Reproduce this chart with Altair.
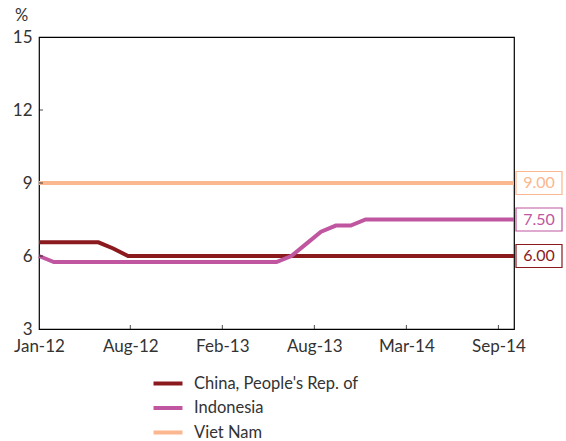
import altair as alt
import pandas as pd

# Monthly policy rates, Jan 2012 - Sep 2014 (%)
months = [d.strftime("%Y-%m") for d in pd.date_range("2012-01-01", periods=33, freq="MS")]

china = [6.56, 6.56, 6.56, 6.56, 6.56, 6.31, 6.00, 6.00, 6.00, 6.00, 6.00, 6.00,
         6.00, 6.00, 6.00, 6.00, 6.00, 6.00, 6.00, 6.00, 6.00, 6.00, 6.00, 6.00,
         6.00, 6.00, 6.00, 6.00, 6.00, 6.00, 6.00, 6.00, 6.00]
indonesia = [6.00, 5.75, 5.75, 5.75, 5.75, 5.75, 5.75, 5.75, 5.75, 5.75, 5.75, 5.75,
             5.75, 5.75, 5.75, 5.75, 5.75, 6.00, 6.50, 7.00, 7.25, 7.25, 7.50, 7.50,
             7.50, 7.50, 7.50, 7.50, 7.50, 7.50, 7.50, 7.50, 7.50]
vietnam = [9.00, 9.00, 9.00, 9.00, 9.00, 9.00, 9.00, 9.00, 9.00, 9.00, 9.00, 9.00,
           9.00, 9.00, 9.00, 9.00, 9.00, 9.00, 9.00, 9.00, 9.00, 9.00, 9.00, 9.00,
           9.00, 9.00, 9.00, 9.00, 9.00, 9.00, 9.00, 9.00, 9.00]

countries = ["China, People's Rep. of", "Indonesia", "Viet Nam"]
colors = ["#8B1A1F", "#C0569F", "#FBB78F"]

# x-axis: month index positions of the tick marks and their labels
x_tick_pos = [0, 6.15, 12.35, 18.55, 24.75, 30.95]
x_tick_labels = ["Jan-12", "Aug-12", "Feb-13", "Aug-13", "Mar-14", "Sep-14"]
y_ticks = [3, 6, 9, 12, 15]

series = {countries[0]: china, countries[1]: indonesia, countries[2]: vietnam}
rows = []
for name, vals in series.items():
    for i, (m, v) in enumerate(zip(months, vals)):
        rows.append({"idx": i, "month": m, "country": name, "value": v})
df = pd.DataFrame(rows)
last = df[df["idx"] == len(months) - 1]

FONT = "Lato"
TEXT = "#333333"
label_expr = "[{}][indexof([{}], datum.value)]".format(
    ",".join(f"'{s}'" for s in x_tick_labels),
    ",".join(str(p) for p in x_tick_pos),
)

x_enc = alt.X(
    "idx:Q",
    scale=alt.Scale(domain=[0, len(months) - 1], nice=False, zero=False),
    axis=alt.Axis(values=x_tick_pos, labelExpr=label_expr, ticks=False, domain=False,
                  grid=False, title=None, labelPadding=9, labelFontSize=17,
                  labelFont=FONT, labelColor=TEXT, labelFlush=False,
                  labelOverlap=False, labelBound=False),
)
y_scale = alt.Scale(domain=[3, 15], nice=False, zero=False)
y_enc = alt.Y(
    "value:Q",
    scale=y_scale,
    axis=alt.Axis(values=y_ticks, ticks=False, domain=False, grid=False, title="%",
                  titleAngle=0, titleX=-18, titleY=-22, titleAlign="center",
                  titleBaseline="middle", titleFontSize=16.5, titleFontWeight="normal",
                  titleFont=FONT, titleColor=TEXT, labelPadding=7,
                  labelFontSize=17, labelFont=FONT, labelColor=TEXT),
)
color_scale = alt.Scale(domain=countries, range=colors)

# legend swatch: a horizontal stroke twice as wide as the nominal symbol
legend_stroke = "M-2,0H2"

lines = alt.Chart(df).mark_line(strokeWidth=4).encode(
    x=x_enc,
    y=y_enc,
    color=alt.Color(
        "country:N", scale=color_scale, sort=countries,
        legend=alt.Legend(title=None, orient="none", legendX=119.5, legendY=337,
                          symbolType=legend_stroke, symbolSize=210,
                          symbolStrokeWidth=4, labelFontSize=16.5, labelFont=FONT,
                          labelColor=TEXT, labelLimit=400, rowPadding=6.5,
                          labelOffset=16.5, padding=0),
    ),
)

# inward tick marks on both axes
x_ticks_df = pd.DataFrame({"idx": x_tick_pos[1:]})
x_tick_marks = alt.Chart(x_ticks_df).mark_tick(
    orient="vertical", size=4, thickness=1, yOffset=-2, color="black"
).encode(x="idx:Q", y=alt.datum(3, scale=y_scale))

y_ticks_df = pd.DataFrame({"value": y_ticks[1:-1]})
y_tick_marks = alt.Chart(y_ticks_df).mark_tick(
    orient="horizontal", size=4, thickness=1, xOffset=2, color="black"
).encode(y=alt.Y("value:Q", scale=y_scale), x=alt.datum(0))

# value boxes at the right end of each series
box_shape = "M-1,-0.5H1V0.5H-1Z"
boxes = alt.Chart(last).mark_point(
    shape=box_shape, size=2116, filled=True, fill="white", strokeWidth=1.2,
    opacity=1, xOffset=25
).encode(
    x="idx:Q", y=alt.Y("value:Q", scale=y_scale),
    stroke=alt.Color("country:N", scale=color_scale, legend=None),
)
box_text = alt.Chart(last).mark_text(
    dx=25, align="center", baseline="middle", fontSize=16, font=FONT
).encode(
    x="idx:Q", y=alt.Y("value:Q", scale=y_scale),
    text=alt.Text("value:Q", format=".2f"),
    color=alt.Color("country:N", scale=color_scale, legend=None),
)

chart = alt.layer(lines, x_tick_marks, y_tick_marks, boxes, box_text).properties(
    width=475,
    height=292,
    autosize=alt.AutoSizeParams(type="none"),
    padding={"left": 39, "top": 37, "right": 52, "bottom": 112},
    background="white",
).configure_view(stroke="black", strokeWidth=1.2)

chart.save("out.html", embed_options={"renderer": "svg", "actions": False})
